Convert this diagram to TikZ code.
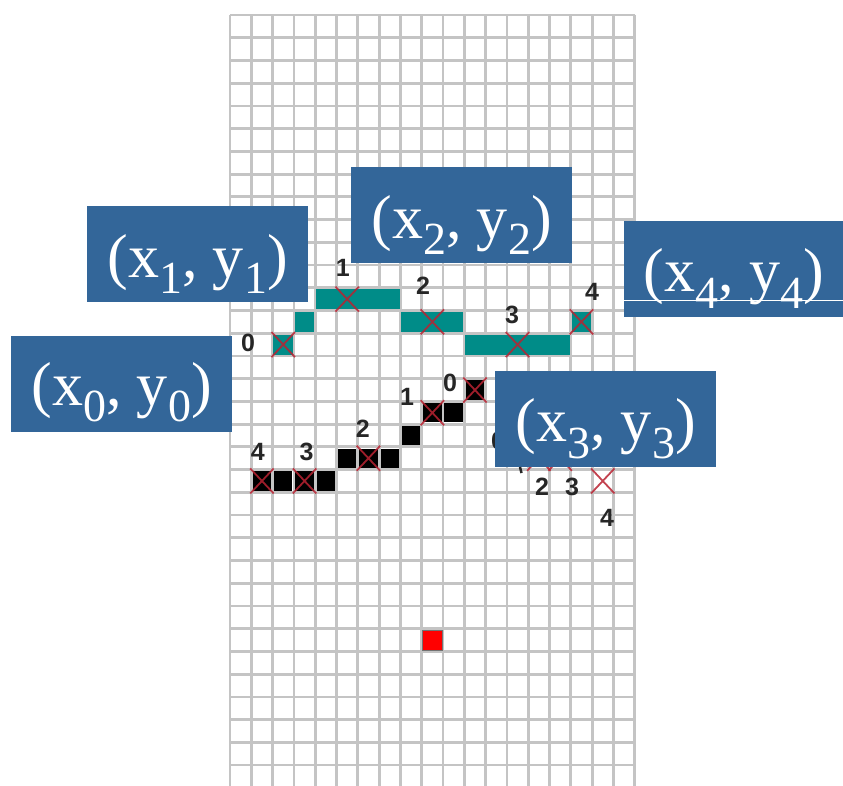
\documentclass[tikz,border=0pt]{standalone}
\usepackage{fontspec}
\setmainfont{Liberation Serif}
\newfontfamily\digitfont{Liberation Sans}
\definecolor{boxblue}{RGB}{51,102,153}
\definecolor{tealc}{RGB}{0,140,136}
\definecolor{xred}{RGB}{185,35,50}
\definecolor{gridc}{RGB}{196,196,196}
\newcommand\mysub[1]{\raisebox{-16.5pt}{\fontsize{46}{46}\selectfont #1}}
\newcommand\ptlabel[1]{(x\mysub{#1}, y\mysub{#1})}
\tikzset{
  gridline/.style={draw=gridc, line width=2.8pt},
  xmark/.style={draw=xred, line width=1.8pt, opacity=0.85},
  digit/.style={font=\digitfont\bfseries\fontsize{25}{25}\selectfont, text=black!85, inner sep=0pt},
  bluebox/.style={fill=boxblue, draw=none, inner sep=0pt, minimum width=221pt, minimum height=96pt},
  boxtext/.style={text=white, inner sep=0pt, font=\fontsize{62}{62}\selectfont},
}
\begin{document}
\begin{tikzpicture}[x=1pt,y=-1pt]
\useasboundingbox (0,0) rectangle (843,786);
\fill[white] (0,0) rectangle (843,786);
\begin{scope}[shift={(230,15)}, x=21.3pt, y=-22.73pt]
  % grid
  \foreach \c in {0,...,19} \draw[gridline] (\c,0) -- (\c,33.92);
  \foreach \r in {0,...,33} \draw[gridline] (0,\r) -- (19,\r);
  % teal path
  \foreach \a/\b/\r in {2/2/14, 3/3/13, 4/7/12, 8/10/13, 11/15/14, 16/16/13}
    \fill[tealc] (\a+0.04,\r+0.06) rectangle (\b+0.96,\r+0.94);
  % black path
  \foreach \c/\r in {11/16, 9/17, 10/17, 8/18, 5/19, 6/19, 7/19, 1/20, 2/20, 3/20, 4/20}
    \fill[black] (\c+0.07,\r+0.08) rectangle (\c+0.93,\r+0.92);
  % crosses
  \foreach \c/\r in {2/14, 5/12, 9/13, 13/14, 16/13, 11/16, 9/17, 6/19, 1/20, 3/20, 14/19, 15/19, 17/20}
    \draw[xmark] (\c-0.05,\r-0.05) -- (\c+1.05,\r+1.05) (\c+1.05,\r-0.05) -- (\c-0.05,\r+1.05);
  % red square
  \fill[red, draw=black!55, line width=0.6pt] (9.04,27.06) rectangle (9.96,27.94);
  % labels of the upper path
  \node[digit] (u0) at (0.85,14.43) {0};
  \node[digit] (u1) at (5.3,11.13) {1};
  \node[digit] (u2) at (9.06,11.92) {2};
  \node[digit] (u3) at (13.24,13.2) {3};
  \node[digit] (u4) at (17.0,12.19) {4};
  % labels of the lower path
  \node[digit] (m0) at (10.33,16.19) {0};
  \node[digit] (m1) at (8.31,16.8) {1};
  \node[digit] (m2) at (6.24,18.2) {2};
  \node[digit] (m3) at (3.6,19.2) {3};
  \node[digit] (m4) at (1.31,19.2) {4};
  % labels of the right path (mostly hidden by the box)
  \node[digit] (r0) at (12.58,18.74) {0};
  \node[digit] (r2) at (14.65,20.77) {2};
  \node[digit] (r3) at (16.06,20.77) {3};
  \node[digit] (r4) at (17.7,22.13) {4};
\end{scope}
% boxes
\node[bluebox] (b1) at (197.5,254) {};
\node[boxtext, anchor=base] (t1) at (197.5,277) {\ptlabel{1}};
\node[bluebox] (b2) at (461.5,215.5) {};
\node[boxtext, anchor=base] (t2) at (461.5,238.5) {\ptlabel{2}};
\node[bluebox, minimum width=219pt] (b4) at (733.5,269) {};
\node[boxtext, anchor=base] (t4) at (734,291.7) {\ptlabel{4}};
\draw[white, line width=1.5pt] (623,300.7) -- (843,300.7);
\node[bluebox] (b0) at (121.5,383.5) {};
\node[boxtext, anchor=base] (t0) at (121.5,405) {\ptlabel{0}};
\node[bluebox] (b3) at (605.5,418.5) {};
\node[boxtext, anchor=base] (t3) at (605.5,441.7) {\ptlabel{3}};
% small tick left of label 2, below box (x3, y3)
\coordinate (tk1) at (520,467);
\coordinate (tk2) at (521.5,473);
\draw[black!85, line width=2.5pt] (tk1) -- (tk2);
\end{tikzpicture}
\end{document}
